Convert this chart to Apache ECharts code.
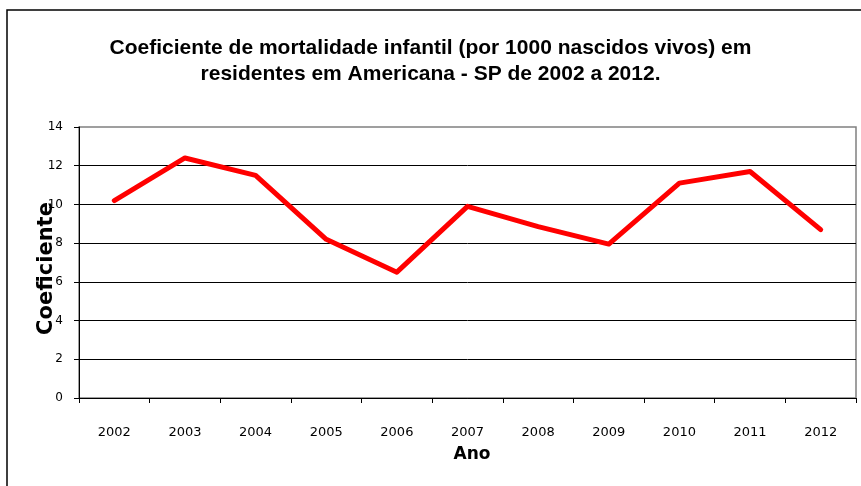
<!DOCTYPE html>
<html><head><meta charset="utf-8">
<script src="https://cdn.jsdelivr.net/npm/echarts@6/dist/echarts.min.js"></script>
<style>html,body{margin:0;padding:0;background:#fff}#c{width:861px;height:486px}</style>
</head><body><div id="c"></div>
<script>
const titleLines = ["Coeficiente de mortalidade infantil (por 1000 nascidos vivos) em", "residentes em Americana - SP de 2002 a 2012."];
const years = ["2002","2003","2004","2005","2006","2007","2008","2009","2010","2011","2012"];
const coeficiente = [10.2, 12.4, 11.5, 8.2, 6.5, 9.9, 8.85, 7.95, 11.1, 11.7, 8.7];
const yMin = 0, yMax = 14, yStep = 2;
const xName = "Ano", yName = "Coeficiente";

const chart = echarts.init(document.getElementById('c'), null, {renderer:'canvas'});
chart.setOption({
  animation: false,
  backgroundColor: '#fff',
  graphic: [{type:'rect', shape:{x:7, y:10, width:900, height:520}, style:{fill:'none', stroke:'#000', lineWidth:1.5}, silent:true}],
  title: {
    text: titleLines.join('\n'), left: 'center', top: 30,
    textStyle: {fontFamily: 'Liberation Sans Narrow, Liberation Sans', fontWeight: 'bold', fontSize: 21, lineHeight: 26, color: '#000'}
  },
  grid: {left: 79, right: 5, top: 127, bottom: 88, show: true, borderColor: '#808080', borderWidth: 1.5, containLabel: false},
  xAxis: {
    type: 'category', data: years, boundaryGap: true,
    name: xName, nameLocation: 'middle', nameGap: 48, nameMoveOverlap: false,
    nameTextStyle: {fontFamily: 'DejaVu Sans', fontWeight: 'bold', fontSize: 17, color: '#000', padding: [0, 0, 0, 9]},
    axisLine: {lineStyle: {color: '#000', width: 1}},
    axisTick: {show: true, length: 5, lineStyle: {color: '#000'}},
    axisLabel: {margin: 28, fontFamily: 'DejaVu Sans', fontSize: 13, color: '#000'},
    splitLine: {show: false}
  },
  yAxis: {
    type: 'value', min: yMin, max: yMax, interval: yStep,
    name: yName, nameLocation: 'middle', nameGap: 22, nameRotate: 90, nameMoveOverlap: false,
    nameTextStyle: {fontFamily: 'DejaVu Sans', fontWeight: 'bold', fontSize: 21, color: '#000', padding: [0, 12, 0, 0]},
    axisLine: {show: true, lineStyle: {color: '#000', width: 1}},
    axisTick: {show: true, length: 5, lineStyle: {color: '#000'}},
    axisLabel: {margin: 16, fontFamily: 'DejaVu Sans', fontSize: 12, color: '#000'},
    splitLine: {show: true, showMaxLine: false, lineStyle: {color: '#000', width: 1}}
  },
  series: [{
    type: 'line', data: coeficiente, symbol: 'none', smooth: false,
    lineStyle: {color: '#ff0000', width: 5, join: 'round', cap: 'round'}
  }]
});
</script></body></html>
